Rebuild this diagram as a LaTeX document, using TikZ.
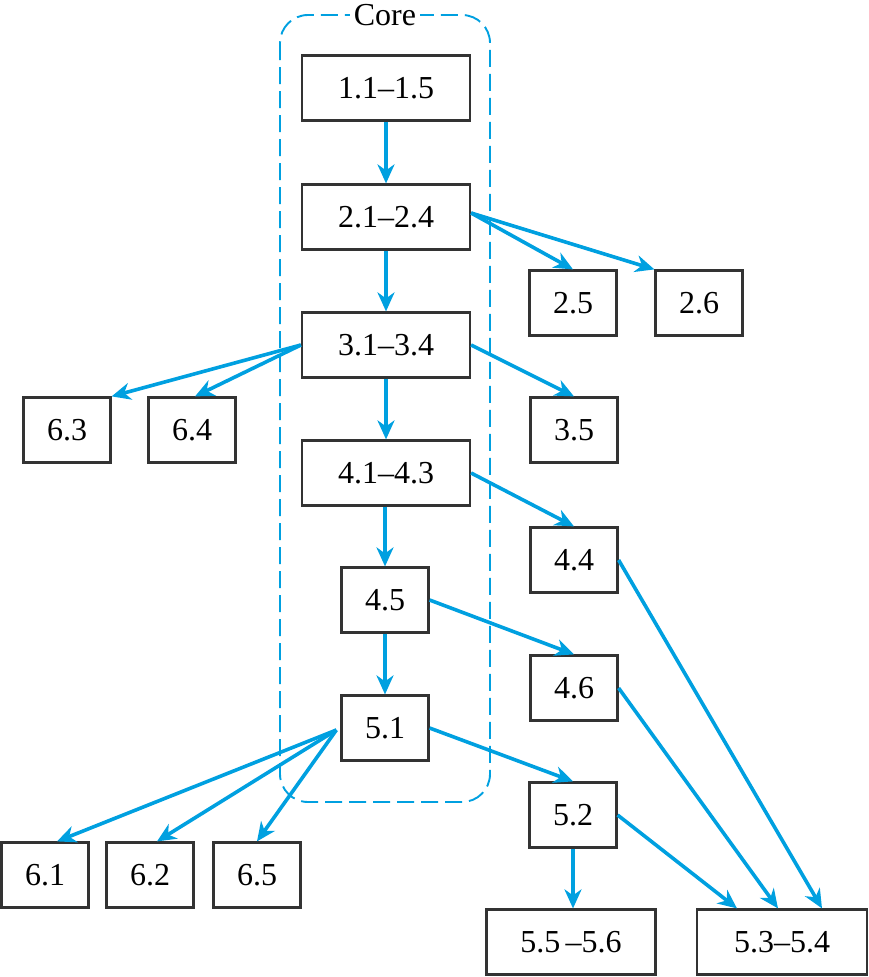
\documentclass[tikz,border=0pt]{standalone}
\usepackage{fontspec}
\setmainfont{Liberation Serif}
\usetikzlibrary{arrows.meta,calc}
\definecolor{arrowblue}{RGB}{0,160,224}
\definecolor{boxgray}{RGB}{51,51,51}
\begin{document}
\begin{tikzpicture}[x=1pt,y=-1pt,
  box/.style={draw=boxgray,line width=2.2pt,minimum height=65pt,inner sep=0pt,font=\fontsize{32}{38}\selectfont,fill=white},
  sbox/.style={box,minimum width=87pt},
  wbox/.style={box,minimum width=168pt},
  link/.style={draw=arrowblue,line width=3.6pt,-{Stealth[length=19pt,width=17pt,inset=6pt]}},
  corebox/.style={draw=arrowblue,line width=1.9pt,dash pattern=on 17pt off 7pt,rounded corners=28pt}]
\useasboundingbox (0,0) rectangle (868,977);
\draw[corebox] (280,15) rectangle (490,802);
\node[fill=white,font=\fontsize{32}{38}\selectfont,inner sep=4pt] (core) at (385,15) {Core};
% core nodes
\node[wbox] (n11) at (386,88) {1.1–1.5};
\node[wbox] (n21) at (386,217) {2.1–2.4};
\node[wbox] (n31) at (386,345) {3.1–3.4};
\node[wbox] (n41) at (386,473) {4.1–4.3};
\node[sbox] (n45) at (385,600) {4.5};
\node[sbox] (n51) at (385,728) {5.1};
% right side
\node[sbox] (n25) at (573,303) {2.5};
\node[sbox] (n26) at (699,303) {2.6};
\node[sbox] (n35) at (574,430) {3.5};
\node[sbox] (n44) at (574,560) {4.4};
\node[sbox] (n46) at (574,688) {4.6};
\node[sbox] (n52) at (573,815) {5.2};
\node[box,minimum width=169pt] (n556) at (571,942) {5.5\,–5.6};
\node[box,minimum width=170pt] (n534) at (782,942) {5.3–5.4};
% left side
\node[sbox] (n63) at (67,430) {6.3};
\node[sbox] (n64) at (192,430) {6.4};
\node[sbox] (n61) at (45,875) {6.1};
\node[sbox] (n62) at (150,875) {6.2};
\node[sbox] (n65) at (257,875) {6.5};
% connectors
\draw[link] (n11) -- (n21);
\draw[link] (n21) -- (n31);
\draw[link] (n31) -- (n41);
\draw[link] (n41.south -| n45.north) -- (n45);
\draw[link] (n45) -- (n51);
\draw[link] ($(n21.east)+(0,-4)$) -- (n25.north);
\draw[link] ($(n21.east)+(0,-4)$) -- (n26.north west);
\draw[link] (n31.west) -- (n63.north east);
\draw[link] (n31.west) -- ($(n64.north)+(3,0)$);
\draw[link] (n31.east) -- (n35.north);
\draw[link] (n41.east) -- (n44.north);
\draw[link] (n45.east) -- (n46.north);
\draw[link] (n51.east) -- (n52.north);
\draw[link] ($(n51.west)+(-4,2)$) -- ($(n61.north)+(12,0)$);
\draw[link] ($(n51.west)+(-4,2)$) -- ($(n62.north)+(7,0)$);
\draw[link] ($(n51.west)+(-4,2)$) -- (n65.north);
\draw[link] (n44.east) -- ($(n534.north)+(40,0)$);
\draw[link] (n46.east) -- ($(n534.north)+(-4,0)$);
\draw[link] (n52.east) -- ($(n534.north)+(-45,0)$);
\draw[link] (n52.south) -- (n52.south |- n556.north);
\end{tikzpicture}
\end{document}
